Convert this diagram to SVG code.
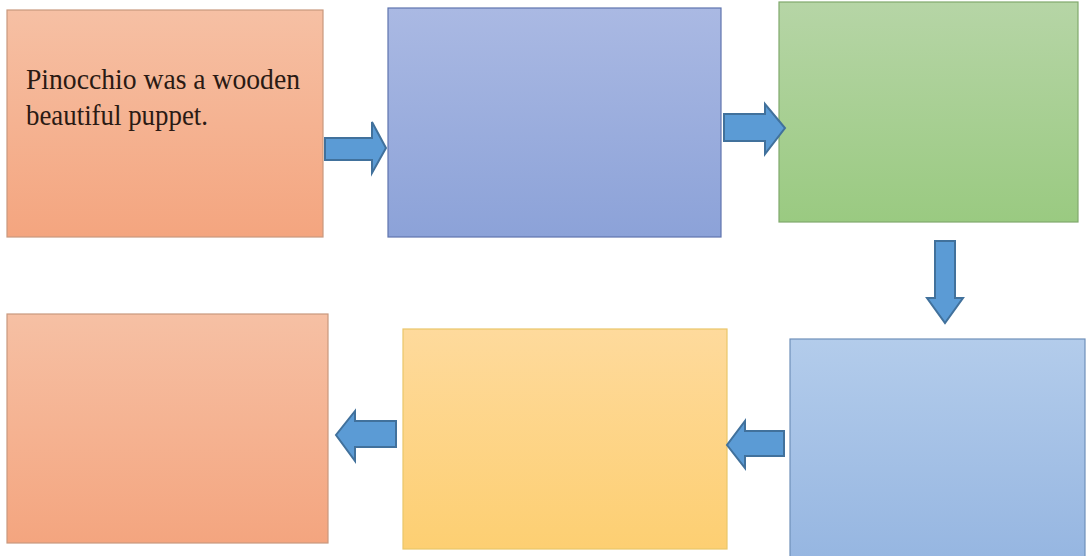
<svg xmlns="http://www.w3.org/2000/svg" width="1087" height="556" viewBox="0 0 1087 556">
<defs>
<linearGradient id="gOrange" x1="0" y1="0" x2="0" y2="1"><stop offset="0" stop-color="#F6C0A4"/><stop offset="1" stop-color="#F4A57F"/></linearGradient>
<linearGradient id="gBlue" x1="0" y1="0" x2="0" y2="1"><stop offset="0" stop-color="#AAB9E3"/><stop offset="1" stop-color="#8CA2D8"/></linearGradient>
<linearGradient id="gGreen" x1="0" y1="0" x2="0" y2="1"><stop offset="0" stop-color="#B6D5A6"/><stop offset="1" stop-color="#9ACA81"/></linearGradient>
<linearGradient id="gSky" x1="0" y1="0" x2="0" y2="1"><stop offset="0" stop-color="#B3CCEB"/><stop offset="1" stop-color="#96B6E1"/></linearGradient>
<linearGradient id="gYellow" x1="0" y1="0" x2="0" y2="1"><stop offset="0" stop-color="#FEDA9C"/><stop offset="1" stop-color="#FDCF72"/></linearGradient>
</defs>
<style>
.box{stroke-width:1.2}
.arrow{fill:#5B9BD5;stroke:#41719C;stroke-width:2;stroke-linejoin:miter}
.txt{font-family:"Liberation Serif","Times New Roman",serif;font-size:29px;fill:#2a1a14}
</style>
<rect width="1087" height="556" fill="#FFFFFF"/>
<g id="node1"><rect class="box" x="7" y="10" width="316" height="227" fill="url(#gOrange)" stroke="#C9987E"/>
<text class="txt" x="26" y="89" textLength="274" lengthAdjust="spacingAndGlyphs">Pinocchio was a wooden</text>
<text class="txt" x="26" y="125" textLength="182" lengthAdjust="spacingAndGlyphs">beautiful puppet.</text></g>
<g id="node2"><rect class="box" x="388" y="8" width="333" height="229" fill="url(#gBlue)" stroke="#5F74AE"/></g>
<g id="node3"><rect class="box" x="779" y="2" width="299" height="220" fill="url(#gGreen)" stroke="#80A96D"/></g>
<g id="node4"><rect class="box" x="790" y="339" width="295" height="220" fill="url(#gSky)" stroke="#6F90B9"/></g>
<g id="node5"><rect class="box" x="403" y="329" width="324" height="220" fill="url(#gYellow)" stroke="#EAC66A"/></g>
<g id="node6"><rect class="box" x="7" y="314" width="321" height="229" fill="url(#gOrange)" stroke="#C9987E"/></g>
<g id="connectors">
<polygon class="arrow" points="325,138 372,138 372,122 386,148 372,173 372,160 325,160"/>
<polygon class="arrow" points="724,114 765,114 765,104 785,128 765,154 765,141 724,141"/>
<polygon class="arrow" points="935,241 955,241 955,298 963,298 945,323 927,298 935,298"/>
<polygon class="arrow" points="784,431 745,431 745,421 727,445 745,468 745,456 784,456"/>
<polygon class="arrow" points="396,421 355,421 355,411 336,435 355,461 355,447 396,447"/>
</g>
</svg>
